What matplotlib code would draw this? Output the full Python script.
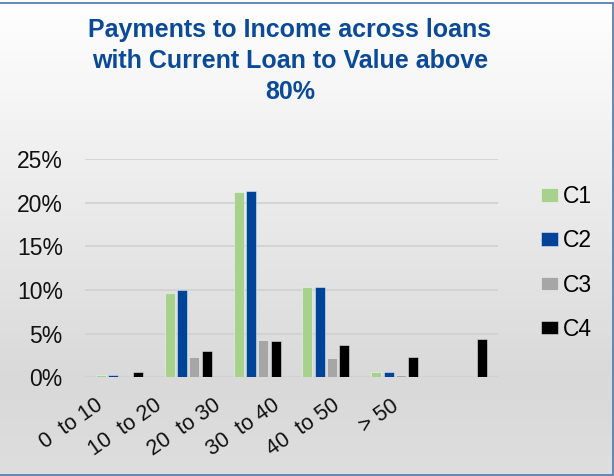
import numpy as np
import matplotlib
matplotlib.use("Agg")
import matplotlib.pyplot as plt
from matplotlib.patches import Rectangle
from matplotlib.colors import LinearSegmentedColormap
from matplotlib.transforms import ScaledTranslation

plt.rcParams['font.family'] = ['Liberation Sans', 'DejaVu Sans']

categories = ["0  to 10", "10  to 20", "20  to 30", "30  to 40", "40  to 50", "> 50"]
series_names = ["C1", "C2", "C3", "C4"]
c1 = [0.27, 9.7, 21.2, 10.3, 0.6, 0.0]
c2 = [0.30, 10.0, 21.35, 10.3, 0.6, 0.0]
c3 = [0.0, 2.3, 4.3, 2.25, 0.27, 0.0]
c4 = [0.57, 3.0, 4.1, 3.65, 2.35, 4.4]
colors = ["#a9d18e", "#00449a", "#a6a6a6", "#000000"]
yticks = [0, 5, 10, 15, 20, 25]
title = "Payments to Income across loans\nwith Current Loan to Value above\n80%"

W, H = 614, 476
fig = plt.figure(figsize=(W / 100, H / 100), dpi=100)

# background gradient
bg = fig.add_axes([0, 0, 1, 1], zorder=-10)
cmap = LinearSegmentedColormap.from_list("bg", [(0, "#ffffff"), (0.8, "#d9d9d9"), (1.0, "#dedede")])
grad = np.linspace(0, 1, 256).reshape(-1, 1)
bg.imshow(grad, aspect="auto", cmap=cmap, extent=[0, 1, 0, 1], origin="upper")
bg.set_axis_off()

# border
fig.patches.append(Rectangle((-0.01, 1.5 / H), (612.5 / W) + 0.01, 1 - 4.5 / H,
                             transform=fig.transFigure, fill=False,
                             edgecolor="#5a7fb0", linewidth=1.3, zorder=10))

ax = fig.add_axes([85 / W, 1 - 377.3 / H, (498 - 85) / W, (377.3 - 159) / H])
ax.patch.set_alpha(0)

x = np.arange(len(categories))
bw = 0.145
pitch = 0.179
data = [c1, c2, c3, c4]
for i, (vals, col, name) in enumerate(zip(data, colors, series_names)):
    ax.bar(x + (i - 1.5) * pitch, np.array(vals) / 100, width=bw, color=col,
           edgecolor=(1, 1, 1, 0.45), linewidth=0.7, label=name, zorder=3)

ax.set_xlim(-0.5, len(categories) - 0.5)
ax.set_ylim(0, 0.25)
ax.set_yticks([v / 100 for v in yticks])
ax.set_yticklabels([f"{v}%" for v in yticks], fontsize=16.5, color="#111111")
ax.yaxis.grid(True, color="#d0d0d0", linewidth=1.2, zorder=0)
ax.set_axisbelow(True)
for s in ax.spines.values():
    s.set_visible(False)
ax.tick_params(axis="both", length=0)
ax.tick_params(axis="y", pad=16)

ax.set_xticks(x)
ax.set_xticklabels(categories, fontsize=15.5, rotation=35, ha="right",
                   rotation_mode="anchor", va="center", color="#111111")
ax.tick_params(axis="x", pad=19)
for i, lab in enumerate(ax.get_xticklabels()):
    lab.set_transform(lab.get_transform() + ScaledTranslation(-(19 + 9.6 * i) / 100, 0, fig.dpi_scale_trans))

fig.text(290 / W, 1 - 61 / H, title, ha="center", va="center", fontsize=18,
         fontweight="bold", color="#0a4a98", linespacing=1.36)

leg = fig.legend(loc="center left", bbox_to_anchor=(541 / W, 1 - 263 / H), frameon=False,
                 fontsize=16.5, handlelength=0.75, handleheight=0.55, handletextpad=0.2,
                 labelspacing=0.92, borderpad=0, borderaxespad=0)

fig.savefig("out.png", dpi=100)
